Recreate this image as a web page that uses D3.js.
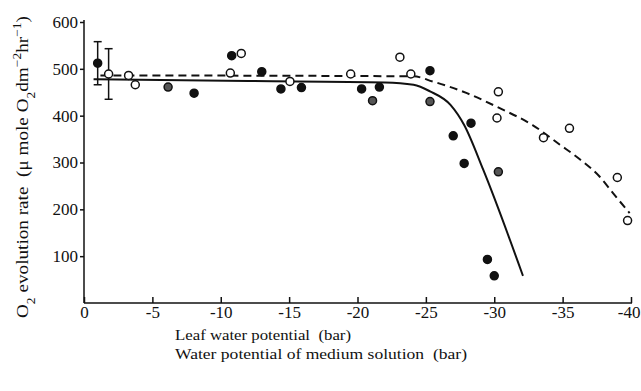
<!DOCTYPE html>
<html lang="en">
<head>
<meta charset="UTF-8">
<title>O2 evolution vs water potential</title>
<style>
	body { margin: 0; background: #fff; }
	svg text { font-family: "Liberation Serif", "DejaVu Serif", serif; fill: #111; }
	.axis path, .axis line { stroke: #111; stroke-width: 1.5; }
</style>
<script src="https://cdn.jsdelivr.net/npm/d3@7/dist/d3.min.js"></script>
</head>
<body>
<script>
// leaf water potential (filled dots)
var filledX = [-1.0, -8.05, -10.8, -13.0, -14.4, -15.9, -20.3, -21.6, -25.3, -27.0, -28.3, -27.8, -29.5, -30.0];
var filledY = [512, 448, 528, 494, 457, 460, 457, 461, 496, 357, 384, 298, 93, 58];
// shaded dots
var halfX = [-6.15, -21.1, -25.3, -30.3];
var halfY = [461, 432, 430, 280];
// water potential of medium solution (open circles)
var openX = [-1.8, -3.26, -3.75, -10.7, -11.5, -15.06, -19.5, -23.1, -23.9, -30.3, -30.2, -33.6, -35.5, -39.0, -39.75];
var openY = [489, 486, 466, 491, 533, 473, 489, 525, 489, 451, 395, 353, 373, 268, 176];
// fitted curves
var solidX = [-0.7, -12, -22, -24.1, -25.3, -26.8, -27.8, -29.2, -32.1];
var solidY = [478, 474, 471, 466, 452, 423, 380, 284, 58];
var dashX = [-1.2, -24.1, -25.5, -28, -30.4, -32.8, -34.8, -36.3, -37.7, -38.7, -39.9];
var dashY = [486, 484, 473, 448, 416, 380, 338, 306, 270, 234, 192];
// error bars [x, mean, half-range]
var errX = [-1.0, -1.8];
var errY = [512, 489];
var errD = [46, 54];

var xTicks = [0, -5, -10, -15, -20, -25, -30, -35, -40];
var yTicks = [100, 200, 300, 400, 500, 600];

var W = 641, H = 391;
var serif = '"Liberation Serif", "DejaVu Serif", serif';
var x = d3.scaleLinear().domain([0, -40]).range([84, 631]);
var y = d3.scaleLinear().domain([0, 600]).range([303, 22]);

var svg = d3.select("body").append("svg")
	.attr("width", W)
	.attr("height", H);

svg.append("g")
	.attr("class", "axis")
	.attr("transform", "translate(0," + y(0) + ")")
	.call(d3.axisBottom(x).tickValues(xTicks).tickSizeInner(-6).tickSizeOuter(0).tickPadding(3)
		.tickFormat(function (d) { return d === 0 ? "0" : "-" + Math.abs(d); }))
	.call(function (g) {
		g.select(".domain").attr("d", "M84,0H632");
		g.selectAll("text").style("font-family", serif).style("font-size", "17px");
		// last label sits against the right edge, as in the scan
		g.selectAll("text").filter(function (d) { return d === -40; })
			.attr("text-anchor", "end").attr("dx", 9);
	});

svg.append("g")
	.attr("class", "axis")
	.attr("transform", "translate(" + x(0) + ",0)")
	.call(d3.axisLeft(y).tickValues(yTicks).tickSize(4).tickPadding(2))
	.call(function (g) {
		g.select(".domain").attr("d", "M0,20V" + y(0));
		g.selectAll("text").style("font-family", serif).style("font-size", "17px");
	});

function pts(xs, ys) {
	return xs.map(function (d, i) { return [d, ys[i]]; });
}

var line = d3.line()
	.x(function (d) { return x(d[0]); })
	.y(function (d) { return y(d[1]); })
	.curve(d3.curveMonotoneX);

svg.append("path")
	.attr("d", line(pts(solidX, solidY)))
	.attr("fill", "none")
	.attr("stroke", "#111")
	.attr("stroke-width", 2);

svg.append("path")
	.attr("d", line(pts(dashX, dashY)))
	.attr("fill", "none")
	.attr("stroke", "#111")
	.attr("stroke-width", 2)
	.attr("stroke-dasharray", "8,5");

// error bars
var eb = svg.selectAll(".err")
	.data(pts(errX, errY).map(function (d, i) { return [d[0], d[1], errD[i]]; }))
	.enter().append("g")
	.attr("class", "err")
	.attr("stroke", "#111")
	.attr("stroke-width", 1.5);
eb.append("line")
	.attr("x1", function (d) { return x(d[0]); })
	.attr("x2", function (d) { return x(d[0]); })
	.attr("y1", function (d) { return y(d[1] + d[2]); })
	.attr("y2", function (d) { return y(d[1] - d[2]); });
eb.selectAll(".cap")
	.data(function (d) { return [[d[0], d[1] + d[2]], [d[0], d[1] - d[2]]]; })
	.enter().append("line")
	.attr("x1", function (d) { return x(d[0]) - 4; })
	.attr("x2", function (d) { return x(d[0]) + 4; })
	.attr("y1", function (d) { return y(d[1]); })
	.attr("y2", function (d) { return y(d[1]); });

function dots(xs, ys, fill) {
	svg.append("g").selectAll("circle")
		.data(pts(xs, ys))
		.enter().append("circle")
		.attr("cx", function (d) { return x(d[0]); })
		.attr("cy", function (d) { return y(d[1]); })
		.attr("r", 4)
		.attr("fill", fill)
		.attr("stroke", "#111")
		.attr("stroke-width", 1.5);
}
dots(openX, openY, "#fff");
dots(halfX, halfY, "#555");
dots(filledX, filledY, "#111");

svg.append("text")
	.attr("x", 175)
	.attr("y", 340)
	.attr("textLength", 176)
	.attr("lengthAdjust", "spacingAndGlyphs")
	.style("font-size", "15px")
	.text("Leaf water potential\u00a0\u00a0(bar)");
svg.append("text")
	.attr("x", 175)
	.attr("y", 359)
	.attr("textLength", 292)
	.attr("lengthAdjust", "spacingAndGlyphs")
	.style("font-size", "15px")
	.text("Water potential of medium solution\u00a0\u00a0(bar)");

var yt = svg.append("text")
	.attr("transform", "translate(28,167) rotate(-90)")
	.attr("text-anchor", "middle")
	.attr("textLength", 302)
	.attr("lengthAdjust", "spacingAndGlyphs")
	.style("font-size", "17px");
yt.append("tspan").text("O");
yt.append("tspan").attr("baseline-shift", "sub").style("font-size", "12px").text("2");
yt.append("tspan").text(" evolution rate\u00a0\u00a0(\u03bc mole O");
yt.append("tspan").attr("baseline-shift", "sub").style("font-size", "12px").text("2");
yt.append("tspan").text("dm");
yt.append("tspan").attr("baseline-shift", "super").style("font-size", "12px").text("\u22122");
yt.append("tspan").text("hr");
yt.append("tspan").attr("baseline-shift", "super").style("font-size", "12px").text("\u22121");
yt.append("tspan").text(")");
</script>
</body>
</html>
